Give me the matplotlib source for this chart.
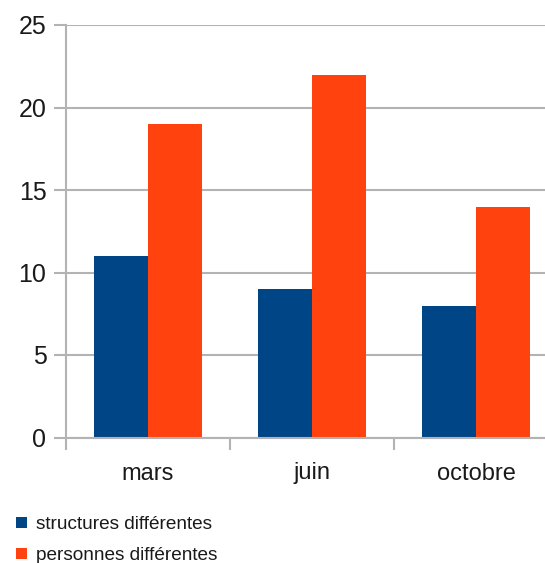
import matplotlib
matplotlib.use("Agg")
import matplotlib.pyplot as plt
from matplotlib.patches import Patch

plt.rcParams["font.family"] = ["Liberation Sans", "DejaVu Sans"]

# data
months = ["mars", "juin", "octobre"]
structures = [11, 9, 8]
personnes = [19, 22, 14]
series_names = ["structures différentes", "personnes différentes"]
colors = ["#004586", "#ff420e"]
grey = "#b3b3b3"

fig = plt.figure(figsize=(5.45, 5.63), dpi=100)
# axes goes past the right edge, like the cropped original
ax = fig.add_axes([66 / 545, 1 - 437.5 / 563, 492 / 545, 412.5 / 563])

w = 0.332
centers = [i + 0.5 for i in range(len(months))]
ax.bar([c - w / 2 for c in centers], structures, width=w, color=colors[0], zorder=2)
ax.bar([c + w / 2 for c in centers], personnes, width=w, color=colors[1], zorder=2)

ax.set_xlim(0, 3)
ax.set_ylim(0, 25)

# y axis + grid
ax.set_yticks([0, 5, 10, 15, 20, 25])
ax.yaxis.grid(True, color=grey, linewidth=1.5)
ax.tick_params(axis="y", length=8.6, width=1.5, color=grey, pad=5.5, labelsize=18, labelcolor="#1a1a1a")

# x axis: labels at centers, separators at boundaries
ax.set_xticks(centers)
ax.set_xticklabels(months)
ax.set_xticks([0, 1, 2, 3], minor=True)
ax.tick_params(axis="x", which="major", length=0, pad=18, labelsize=17, labelcolor="#1a1a1a")
ax.tick_params(axis="x", which="minor", length=8.6, width=1.5, color=grey)

for s in ["top", "right"]:
    ax.spines[s].set_visible(False)
ax.spines["left"].set_color(grey)
ax.spines["left"].set_linewidth(1.5)
ax.spines["bottom"].set_color(grey)
ax.spines["bottom"].set_linewidth(1.5)

handles = [Patch(facecolor=c) for c in colors]
fig.legend(handles, series_names, loc="upper left", bbox_to_anchor=(5 / 545, 1 - 505 / 563),
           frameon=False, fontsize=13.7, handlelength=0.55, handleheight=0.55,
           handletextpad=0.5, labelspacing=0.72, borderaxespad=0, borderpad=0.6,
           labelcolor="#1a1a1a")

fig.savefig("out.png", dpi=100)
